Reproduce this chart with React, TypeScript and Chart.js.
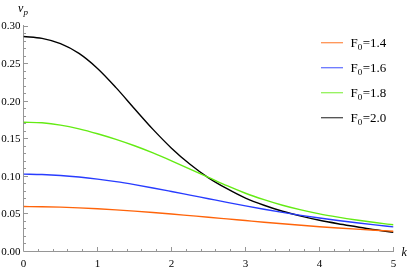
import React, { useEffect, useRef } from "react";
import { Chart, registerables } from "chart.js";

Chart.register(...registerables);

const kValues = [0, 0.25, 0.5, 0.75, 1, 1.25, 1.5, 1.75, 2, 2.25, 2.5, 2.75, 3, 3.25, 3.5, 3.75, 4, 4.25, 4.5, 4.75, 5];
const vpF14 = [0.0598, 0.0596, 0.059, 0.0581, 0.0569, 0.0554, 0.0537, 0.0518, 0.0498, 0.0477, 0.0456, 0.0434, 0.0412, 0.039, 0.0369, 0.0349, 0.033, 0.0313, 0.0297, 0.0283, 0.027];
const vpF16 = [0.103, 0.1025, 0.1012, 0.0991, 0.0963, 0.0929, 0.0889, 0.0845, 0.0798, 0.075, 0.0702, 0.0654, 0.0607, 0.0562, 0.052, 0.0481, 0.0445, 0.0412, 0.0382, 0.0354, 0.0328];
const vpF18 = [0.172, 0.1712, 0.1682, 0.1632, 0.1567, 0.1492, 0.1407, 0.1312, 0.1207, 0.1097, 0.0987, 0.0875, 0.0775, 0.069, 0.0615, 0.0553, 0.05, 0.0457, 0.0419, 0.0385, 0.0355];
const vpF20 = [0.286, 0.2835, 0.2765, 0.2635, 0.2435, 0.218, 0.19, 0.1625, 0.1375, 0.116, 0.098, 0.0835, 0.071, 0.0615, 0.0535, 0.047, 0.0415, 0.037, 0.033, 0.029, 0.0255];

const seriesNames = ["1.4", "1.6", "1.8", "2.0"];
const seriesValues = [vpF14, vpF16, vpF18, vpF20];
const seriesColors = ["rgb(255,100,10)", "rgb(40,60,255)", "rgb(100,235,20)", "rgb(0,0,0)"];

const xTicks = [0, 1, 2, 3, 4, 5];
const xTickLabels = ["0", "1", "2", "3", "4", "5"];
const yTicks = [0, 0.05, 0.1, 0.15, 0.2, 0.25, 0.3];
const yTickLabels = ["0.00", "0.05", "0.10", "0.15", "0.20", "0.25", "0.30"];
const xMinorStep = 0.2;
const yMinorStep = 0.01;

const SERIF = "'Liberation Serif', 'DejaVu Serif', serif";

const axesPlugin = {
  id: "mmaAxes",
  beforeDatasetsDraw(chart: any) {
    const { ctx, scales } = chart;
    const xs = scales.x;
    const ys = scales.y;
    const snap = (v: number) => Math.floor(v) + 0.5;
    const x0 = snap(xs.getPixelForValue(0));
    const y0 = snap(ys.getPixelForValue(0));
    const xEnd = xs.getPixelForValue(5);
    const yTop = ys.getPixelForValue(0.3);
    ctx.save();
    ctx.strokeStyle = "rgb(150,150,150)";
    ctx.lineWidth = 1;
    ctx.beginPath();
    ctx.moveTo(x0, yTop - 1);
    ctx.lineTo(x0, y0);
    ctx.moveTo(x0, y0);
    ctx.lineTo(xEnd + 0.5, y0);
    const nx = Math.round(5 / xMinorStep);
    for (let i = 1; i <= nx; i++) {
      const v = i * xMinorStep;
      const px = snap(xs.getPixelForValue(v));
      const major = i % 5 === 0;
      ctx.moveTo(px, y0);
      ctx.lineTo(px, y0 - (major ? 4.5 : 2.5));
    }
    const ny = Math.round(0.3 / yMinorStep);
    for (let i = 1; i <= ny; i++) {
      const v = i * yMinorStep;
      const py = snap(ys.getPixelForValue(v));
      const major = i % 5 === 0;
      ctx.moveTo(x0, py);
      ctx.lineTo(x0 + (major ? 4.5 : 2.5), py);
    }
    ctx.stroke();

    ctx.fillStyle = "#000";
    ctx.font = `11px ${SERIF}`;
    ctx.textAlign = "center";
    ctx.textBaseline = "alphabetic";
    xTicks.forEach((v, i) => {
      ctx.fillText(xTickLabels[i], xs.getPixelForValue(v), y0 + 15);
    });
    ctx.textAlign = "right";
    ctx.textBaseline = "middle";
    yTicks.forEach((v, i) => {
      ctx.fillText(yTickLabels[i], x0 - 3, ys.getPixelForValue(v) + 0.5);
    });

    ctx.textBaseline = "alphabetic";
    ctx.textAlign = "left";
    ctx.font = `italic 12px ${SERIF}`;
    ctx.fillText("v", 18, 12);
    ctx.font = `italic 9px ${SERIF}`;
    ctx.fillText("p", 23.5, 15);
    ctx.font = `italic 12px ${SERIF}`;
    ctx.fillText("k", xEnd + 8, y0 + 4);
    ctx.restore();
  },
  afterDraw(chart: any) {
    const { ctx } = chart;
    ctx.save();
    const rowY = [42.7, 67.7, 92.7, 117.7];
    seriesNames.forEach((name, i) => {
      const y = rowY[i];
      ctx.strokeStyle = seriesColors[i];
      ctx.globalAlpha = 0.7;
      ctx.lineWidth = 1.3;
      ctx.beginPath();
      ctx.moveTo(321, y);
      ctx.lineTo(343, y);
      ctx.stroke();
      ctx.globalAlpha = 1;
      ctx.fillStyle = "#000";
      ctx.textAlign = "left";
      ctx.textBaseline = "alphabetic";
      let x = 350.5;
      const base = y + 4.5;
      ctx.font = `13px ${SERIF}`;
      ctx.fillText("F", x, base);
      x += ctx.measureText("F").width;
      ctx.font = `9px ${SERIF}`;
      ctx.fillText("0", x, base + 3);
      x += ctx.measureText("0").width + 0.5;
      ctx.font = `13px ${SERIF}`;
      ctx.fillText("=" + name, x, base);
    });
    ctx.restore();
  },
};

export default function App() {
  const ref = useRef<HTMLCanvasElement | null>(null);
  useEffect(() => {
    if (!ref.current) return;
    const datasets = seriesNames.map((name, i) => ({
      label: "F0=" + name,
      data: kValues.map((k, j) => ({ x: k, y: seriesValues[i][j] })),
      borderColor: seriesColors[i],
      backgroundColor: seriesColors[i],
      borderWidth: 1.4,
      pointRadius: 0,
      cubicInterpolationMode: "monotone" as const,
      fill: false,
    }));
    const chart = new Chart(ref.current, {
      type: "line",
      data: { datasets },
      options: {
        animation: false,
        responsive: false,
        layout: { padding: { left: 23.5, right: 15.5, top: 26, bottom: 19.5 } },
        plugins: { legend: { display: false }, tooltip: { enabled: false } },
        scales: {
          x: { type: "linear", min: 0, max: 5, display: false },
          y: { type: "linear", min: 0, max: 0.3, display: false },
        },
      },
      plugins: [axesPlugin],
    });
    return () => chart.destroy();
  }, []);
  return (
    <div style={{ position: "absolute", left: 0, top: 0, width: 409, height: 271, background: "#fff" }}>
      <canvas ref={ref} width={409} height={271} style={{ display: "block" }} />
    </div>
  );
}
